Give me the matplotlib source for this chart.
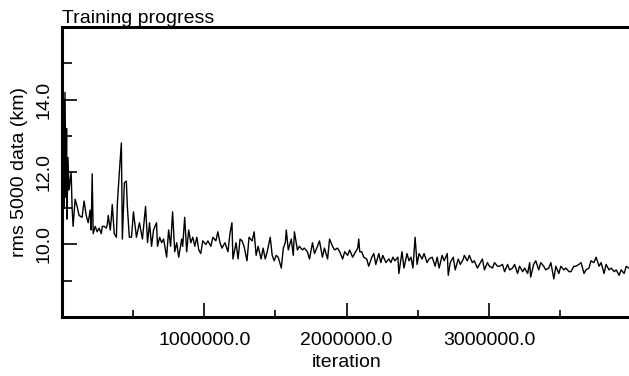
import matplotlib
matplotlib.use('Agg')
import matplotlib.pyplot as plt
from matplotlib.ticker import FixedLocator, FormatStrFormatter

plt.rcParams['font.family'] = ['Liberation Sans', 'DejaVu Sans']

# iteration (thousands) and rms error (km)
iter_k = [0, 7, 11, 14, 21, 28, 32, 35, 42, 49, 64, 71, 78, 92, 106, 120, 141, 155,
          170, 184, 198, 205, 212, 219, 233, 247, 261, 276, 283, 297, 311, 318, 325,
          339, 346, 353, 367, 382, 389, 403, 417, 424, 438, 452, 459, 473, 488, 502,
          523, 544, 565, 587, 601, 615, 629, 643, 664,
          671, 686, 700, 714, 735, 749, 763, 777, 792, 806, 820, 841, 848, 862, 876,
          890, 905, 919, 933, 947, 961, 975, 989, 1011, 1025, 1046, 1060, 1081, 1095,
          1110, 1124, 1145, 1166, 1180, 1194, 1201, 1223, 1237, 1251, 1265, 1279,
          1300, 1314, 1336, 1350, 1364, 1378, 1399, 1413, 1428, 1442, 1463, 1477,
          1491, 1505, 1519, 1541, 1555, 1569, 1576, 1590, 1611, 1625, 1633, 1654,
          1668, 1689, 1703, 1724, 1739, 1760, 1774, 1795, 1809, 1830, 1844, 1866,
          1880, 1901, 1915, 1936, 1951, 1972, 1986, 2007, 2021, 2042, 2056, 2078,
          2085, 2092, 2106, 2120, 2141, 2155, 2177, 2191, 2205, 2226, 2240, 2254,
          2276, 2297, 2311, 2325, 2339, 2360, 2367, 2389, 2403, 2424, 2438, 2452,
          2466, 2481, 2495, 2509, 2530, 2544, 2565, 2579, 2601, 2622, 2636, 2650,
          2671, 2685, 2707, 2714, 2728, 2749, 2763, 2784, 2799, 2820, 2827, 2848,
          2862, 2883, 2897, 2919, 2933, 2954, 2968, 2989, 3003, 3025, 3039, 3060,
          3074, 3095, 3110, 3131, 3145, 3166, 3180, 3201, 3215, 3237, 3251, 3272,
          3286, 3293, 3314, 3329, 3350, 3364, 3385, 3399, 3420, 3435, 3456, 3470,
          3491, 3505, 3526, 3541, 3562, 3576, 3597, 3611, 3632, 3647, 3668, 3682,
          3703, 3717, 3738, 3753, 3774, 3788, 3809, 3823, 3844, 3859, 3880, 3894,
          3915, 3929, 3950, 3965, 4000]
rms_km = [15.3, 11.5, 14.0, 11.0, 14.2, 11.3, 13.2,
          10.7, 12.4, 11.5, 12.0, 11.0, 10.5, 11.25, 11.05, 10.8, 10.75, 11.2,
          10.8, 10.6, 10.95, 10.4, 11.95, 10.3, 10.5, 10.35, 10.45, 10.3, 10.5,
          10.5, 10.45, 10.55, 10.8, 10.4, 10.7, 11.1, 10.3, 10.2, 11.15, 12.0,
          12.8, 10.15, 11.7, 11.75, 11.05, 10.2, 10.2, 10.9,
          10.2, 10.6, 10.15, 11.05, 10.05, 10.6, 9.95, 10.4, 10.6,
          9.95, 10.2, 10.05, 10.15, 9.65, 10.4, 9.95, 10.9, 9.8, 10.05, 9.65, 10.15,
          9.95, 10.75, 9.8, 10.4, 10.05, 10.2, 9.95, 10.2, 9.85, 9.75, 10.1, 10.0,
          10.1, 9.95, 10.2, 10.1, 10.35, 10.05, 9.9, 10.05, 9.8, 10.3, 10.6, 9.6,
          10.05, 9.6, 10.15, 10.1, 9.95, 9.55, 10.2, 10.1, 10.35, 9.7, 9.95, 9.6,
          9.9, 9.6, 9.8, 10.2, 9.7, 9.55, 9.7, 9.65, 9.35, 9.9, 10.05, 10.4, 9.85,
          10.15, 9.7, 10.35, 9.85, 9.95, 9.85, 9.9, 9.8, 9.6, 10.05, 9.75, 9.95,
          10.1, 9.65, 9.9, 9.6, 10.15, 9.95, 9.85, 9.9, 9.8, 9.6, 9.8, 9.7, 9.85,
          9.65, 9.75, 9.9, 10.15, 9.8, 9.8, 9.65, 9.6, 9.4, 9.65, 9.75, 9.45, 9.75,
          9.5, 9.7, 9.5, 9.6, 9.5, 9.65, 9.55, 9.65, 9.2, 9.8, 9.35, 9.75, 9.55,
          9.65, 9.35, 10.2, 9.45, 9.75, 9.6, 9.75, 9.5, 9.6, 9.65, 9.4, 9.65, 9.35,
          9.7, 9.55, 9.75, 9.15, 9.5, 9.65, 9.3, 9.6, 9.45, 9.6, 9.7, 9.55, 9.7,
          9.5, 9.55, 9.35, 9.45, 9.6, 9.3, 9.5, 9.4, 9.35, 9.5, 9.4, 9.4, 9.45,
          9.25, 9.45, 9.3, 9.35, 9.45, 9.2, 9.4, 9.25, 9.35, 9.2, 9.5, 9.1, 9.45,
          9.55, 9.3, 9.5, 9.4, 9.3, 9.35, 9.5, 9.05, 9.4, 9.2, 9.4, 9.3, 9.35,
          9.25, 9.25, 9.4, 9.4, 9.45, 9.5, 9.2, 9.3, 9.35, 9.55, 9.5, 9.65, 9.4,
          9.5, 9.2, 9.45, 9.3, 9.35, 9.25, 9.3, 9.15, 9.3, 9.2, 9.4, 9.3]

iterations = [k * 1000 for k in iter_k]

fig = plt.figure(figsize=(6.29, 3.76), dpi=100)
ax = fig.add_axes([0.0986, 0.157, 0.905, 0.771])

ax.plot(iterations, rms_km, color='black', lw=1.0)

ax.set_xlim(0, 4000000)
ax.set_ylim(8, 16)

ax.xaxis.set_major_locator(FixedLocator([1000000, 2000000, 3000000]))
ax.xaxis.set_minor_locator(FixedLocator([500000, 1500000, 2500000, 3500000]))
ax.yaxis.set_major_locator(FixedLocator([10, 12, 14]))
ax.yaxis.set_minor_locator(FixedLocator([9, 11, 13, 15]))
ax.xaxis.set_major_formatter(FormatStrFormatter('%.1f'))
ax.yaxis.set_major_formatter(FormatStrFormatter('%.1f'))

ax.tick_params(axis='both', which='both', direction='in', width=1.2, labelsize=14)
ax.tick_params(axis='y', which='major', length=11, pad=6.5)
ax.tick_params(axis='y', which='minor', length=7)
ax.tick_params(axis='x', which='major', length=10, pad=10.5)
ax.tick_params(axis='x', which='minor', length=5)
for lbl in ax.get_yticklabels():
    lbl.set_rotation(90)
    lbl.set_va('center')

ax.spines['right'].set_visible(False)
for side in ['left', 'top', 'bottom']:
    ax.spines[side].set_linewidth(2.2)

ax.set_xlabel('iteration', fontsize=14, labelpad=4)
ax.set_ylabel('rms 5000 data (km)', fontsize=14, labelpad=5.5)
ax.set_title('Training progress', fontsize=14, loc='left', pad=3)

fig.savefig('out.png', dpi=100)
